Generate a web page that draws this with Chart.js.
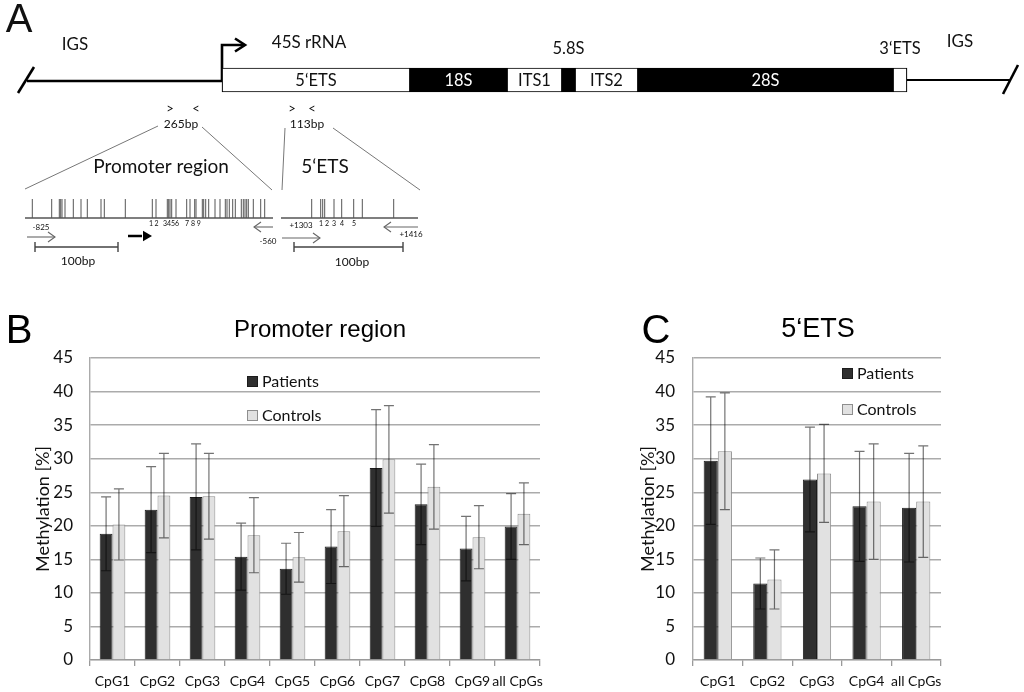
<!DOCTYPE html>
<html>
<head>
<meta charset="utf-8">
<title>rDNA methylation</title>
<script src="https://cdn.jsdelivr.net/npm/chart.js@4.4.0/dist/chart.umd.min.js"></script>
<style>
  body { margin: 0; background: #fff; }
  .panel { position: absolute; }
  #wrapA { left: 0; top: 0; width: 1024px; height: 290px; }
  #wrapB { left: 0; top: 290px; width: 560px; height: 402px; }
  #wrapC { left: 600px; top: 290px; width: 424px; height: 402px; }
</style>
</head>
<body>
<div class="panel" id="wrapA"><canvas id="chartA"></canvas></div>
<div class="panel" id="wrapB"><canvas id="chartB"></canvas></div>
<div class="panel" id="wrapC"><canvas id="chartC"></canvas></div>
<script>
// ---- values ----
// B: promoter region
const promoterLabels = ["CpG1", "CpG2", "CpG3", "CpG4", "CpG5", "CpG6", "CpG7", "CpG8", "CpG9", "all CpGs"];
const promoterPatients = [18.8, 22.4, 24.3, 15.4, 13.6, 16.9, 28.6, 23.2, 16.6, 19.9];
const promoterPatientsErr = [5.5, 6.4, 7.9, 5.0, 3.8, 5.5, 8.7, 6.0, 4.8, 4.9];
const promoterControls = [20.2, 24.5, 24.4, 18.6, 15.3, 19.2, 29.9, 25.8, 18.3, 21.8];
const promoterControlsErr = [5.3, 6.3, 6.4, 5.6, 3.7, 5.3, 8.0, 6.3, 4.7, 4.6];

// C: 5'ETS
const etsLabels = ["CpG1", "CpG2", "CpG3", "CpG4", "all CpGs"];
const etsPatients = [29.7, 11.4, 26.9, 22.9, 22.7];
const etsPatientsErr = [9.5, 3.8, 7.8, 8.2, 8.1];
const etsControls = [31.1, 12.0, 27.8, 23.6, 23.6];
const etsControlsErr = [8.7, 4.4, 7.3, 8.6, 8.3];

const yTicks = [0, 5, 10, 15, 20, 25, 30, 35, 40, 45];

// A: rDNA unit, segment bounds in diagram units
const geneSegments = ["5‘ETS", "18S", "ITS1", "5.8S", "ITS2", "28S", "3‘ETS"];
const geneStart = [222, 410, 507, 562, 575, 638, 893];
const geneEnd = [410, 507, 562, 575, 638, 893, 907];
const geneKind = ["spacer", "rRNA", "spacer", "rRNA", "spacer", "rRNA", "spacer"];
// CpG sites inside the two amplicons (diagram units)
const promoterCpG = [32.3, 51.7, 59.3, 60.7, 62, 65, 73.3, 81, 87.3, 101, 104.3, 125.3,
  152.3, 156, 167.3, 168.7, 170, 171.7, 176, 186.7, 190, 194.7, 196, 202.3, 203.7, 205.7,
  208.7, 215, 220, 225.3, 227, 229.3, 232.7, 235.3, 241.3, 243.3, 245, 246.7, 248.3, 253.3,
  260.7, 264.7];
const etsCpG = [311.7, 320.7, 322.7, 324.7, 334, 341.7, 353.7, 362.3, 393.7];

Chart.defaults.font.family = "Lato";
Chart.defaults.color = "#111";

// ---- panel A ----
function path(points, color, width) {
  return {
    type: "scatter", showLine: true, pointRadius: 0, fill: false,
    borderColor: color, borderWidth: width,
    data: points.map(p => ({x: p[0], y: p[1]}))
  };
}

const diagramText = [
  ["A", 19, 21, 40, "Liberation Sans"],
  ["IGS", 75, 45, 17],
  ["45S rRNA", 309, 43, 17],
  ["IGS", 960, 42, 17],
  [">", 170, 109, 13], ["<", 196, 109, 13], ["265bp", 181, 124, 12],
  [">", 292, 109, 13], ["<", 312, 109, 13], ["113bp", 307, 124, 12],
  ["Promoter region", 161, 167, 19],
  ["5‘ETS", 325, 167, 19],
  ["1", 151, 224, 7], ["2", 156.5, 224, 7], ["3456", 171, 224, 7], ["7 8 9", 193, 224, 7],
  ["-825", 41, 227, 8], ["-560", 268, 241, 8],
  ["+1303", 301, 225, 8], ["1 2", 324, 224, 7], ["3", 334, 224, 7], ["4", 342, 224, 7],
  ["5", 354, 224, 7], ["+1416", 411, 234, 8],
  ["100bp", 78, 261, 12], ["100bp", 352, 262, 12]
];

const diagramTextPlugin = {
  id: "diagramText",
  afterDatasetsDraw(chart) {
    const {ctx, scales: {x, y}} = chart;
    ctx.save();
    ctx.textAlign = "center";
    ctx.textBaseline = "middle";
    diagramText.forEach(([t, px, py, size, fam]) => {
      ctx.font = size + "px " + (fam ? '"' + fam + '"' : "Lato");
      ctx.fillStyle = "#111";
      ctx.fillText(t, x.getPixelForValue(px), y.getPixelForValue(py));
    });
    // segment names
    ctx.font = "16.5px Lato";
    geneSegments.forEach((name, i) => {
      const cx = x.getPixelForValue((geneStart[i] + geneEnd[i]) / 2);
      if (geneEnd[i] - geneStart[i] > 30) {
        ctx.fillStyle = geneKind[i] === "rRNA" ? "#fff" : "#111";
        ctx.fillText(name, cx, y.getPixelForValue(81));
      } else {
        ctx.fillStyle = "#111";
        ctx.fillText(name, cx, y.getPixelForValue(49));
      }
    });
    ctx.restore();
  }
};

new Chart(document.getElementById("chartA"), {
  type: "scatter",
  data: {
    datasets: [
      {
        type: "bar", indexAxis: "y",
        data: geneSegments.map((s, i) => ({x: [geneStart[i], geneEnd[i]], y: 80})),
        backgroundColor: geneKind.map(k => k === "rRNA" ? "#000" : "#fff"),
        borderColor: "#000", borderWidth: 1.2, borderSkipped: false, barThickness: 24
      },
      // IGS line with transcription start arrow
      path([[27, 81], [222, 81], [222, 45], [244, 45]], "#000", 2.6),
      path([[235, 38.5], [245, 45], [235, 51.5]], "#000", 2.6),
      path([[18, 93], [34, 67]], "#000", 2.6),
      path([[907, 80], [1010, 80]], "#000", 2.2),
      path([[1003, 94], [1018, 65]], "#000", 2.6),
      // zoom lines
      path([[25, 189], [158, 126]], "#777", 1),
      path([[202, 127], [272, 190]], "#777", 1),
      path([[282, 190], [285, 128]], "#777", 1),
      path([[333, 128], [420, 190]], "#777", 1),
      // amplicon baselines
      path([[25, 218], [273, 218]], "#555", 1.3),
      path([[281, 218], [418, 218]], "#555", 1.3),
      // primers
      path([[27, 237], [55, 237]], "#666", 1.1),
      path([[48, 232], [55, 237], [48, 242]], "#666", 1.1),
      path([[273, 227], [254, 227]], "#666", 1.1),
      path([[261, 222], [254, 227], [261, 232]], "#666", 1.1),
      path([[282, 238], [320, 238]], "#666", 1.1),
      path([[313, 233], [320, 238], [313, 243]], "#666", 1.1),
      path([[418, 227], [384, 227]], "#666", 1.1),
      path([[391, 222], [384, 227], [391, 232]], "#666", 1.1),
      // 100bp scale bars
      path([[35, 242], [35, 252], [35, 247], [118, 247], [118, 242], [118, 252]], "#444", 1.4),
      path([[294, 242], [294, 252], [294, 247], [403, 247], [403, 242], [403, 252]], "#444", 1.4),
      // transcription start in promoter
      path([[128, 236], [142, 236]], "#000", 2.5),
      {
        type: "scatter", data: [{x: 146, y: 236}], pointStyle: "triangle", rotation: 90,
        pointRadius: 6, backgroundColor: "#000", borderColor: "#000", borderWidth: 0
      },
      // CpG sites
      {
        type: "scatter", data: promoterCpG.concat(etsCpG).map(v => ({x: v, y: 208.5})),
        pointStyle: "line", rotation: 90, pointRadius: 9.5,
        borderColor: "#555", borderWidth: 1
      }
    ]
  },
  options: {
    responsive: true, maintainAspectRatio: false, animation: false, events: [],
    layout: {padding: 0, autoPadding: false},
    scales: {
      x: {type: "linear", min: 0, max: 1024, display: false, offset: false},
      y: {type: "linear", min: 0, max: 290, reverse: true, display: false, offset: false}
    },
    plugins: {legend: {display: false}, tooltip: {enabled: false}}
  },
  plugins: [diagramTextPlugin]
});

// ---- panels B and C ----
const errorBars = {
  id: "errorBars",
  afterDatasetsDraw(chart) {
    const ctx = chart.ctx, ys = chart.scales.y;
    ctx.save();
    ctx.strokeStyle = "rgba(0,0,0,0.55)";
    ctx.lineWidth = 1.2;
    chart.data.datasets.forEach((ds, i) => {
      chart.getDatasetMeta(i).data.forEach((bar, j) => {
        const v = ds.data[j], e = ds.err[j];
        const top = ys.getPixelForValue(v + e), bot = ys.getPixelForValue(v - e);
        ctx.beginPath();
        ctx.moveTo(bar.x, top); ctx.lineTo(bar.x, bot);
        ctx.moveTo(bar.x - 5, top); ctx.lineTo(bar.x + 5, top);
        ctx.moveTo(bar.x - 5, bot); ctx.lineTo(bar.x + 5, bot);
        ctx.stroke();
      });
    });
    ctx.restore();
  }
};

const panelDecor = {
  id: "panelDecor",
  afterDraw(chart, args, o) {
    const ctx = chart.ctx;
    ctx.save();
    ctx.fillStyle = "#000";
    ctx.textAlign = "center";
    ctx.textBaseline = "middle";
    ctx.font = '40px "Liberation Sans"';
    ctx.fillText(o.letter, o.letterX, o.letterY);
    ctx.font = o.titleSize + 'px "Liberation Sans"';
    ctx.fillText(o.title, o.titleX, o.titleY);
    // legend inside plot
    ctx.textAlign = "left";
    ctx.font = "16px Lato";
    chart.data.datasets.forEach((ds, i) => {
      const ly = o.legendY + i * o.legendGap;
      ctx.fillStyle = ds.backgroundColor;
      ctx.fillRect(o.legendX, ly - 5, 11, 11);
      ctx.strokeStyle = ds.borderColor;
      ctx.lineWidth = 1;
      ctx.strokeRect(o.legendX + 0.5, ly - 4.5, 10, 10);
      ctx.fillStyle = "#111";
      ctx.fillText(ds.label, o.legendX + 15, ly + 1);
    });
    ctx.restore();
  }
};

function methylationChart(id, labels, pat, patErr, con, conErr, lay) {
  return new Chart(document.getElementById(id), {
    type: "bar",
    data: {
      labels: labels,
      datasets: [
        {label: "Patients", data: pat, err: patErr, backgroundColor: "#2f2f2f",
          borderColor: "#1c1c1c", borderWidth: 1},
        {label: "Controls", data: con, err: conErr, backgroundColor: "#e1e1e1",
          borderColor: "#8e8e8e", borderWidth: 1}
      ]
    },
    options: {
      responsive: true, maintainAspectRatio: false, animation: false, events: [],
      layout: {padding: {left: 0, right: lay.right, top: 68, bottom: 0}},
      datasets: {bar: {barPercentage: 1, categoryPercentage: 0.57}},
      scales: {
        x: {
          grid: {offset: true, drawOnChartArea: false, drawTicks: true, tickLength: 6,
            color: "#9a9a9a", lineWidth: 1.3},
          border: {color: "#9a9a9a", width: 1.3},
          ticks: {font: {size: 14}, padding: 7, maxRotation: 0, autoSkip: false},
          afterFit: s => { s.height = 32; }
        },
        y: {
          min: 0, max: 45,
          afterBuildTicks: s => { s.ticks = yTicks.map(v => ({value: v})); },
          grid: {drawTicks: false, color: "#ababab", lineWidth: 1.4},
          border: {color: "#ababab", width: 1.4},
          ticks: {font: {size: 17}, padding: lay.tickPad},
          title: {display: true, text: "Methylation [%]", font: {size: 18},
            padding: {top: lay.titlePad, bottom: 0}},
          afterFit: s => { s.width = lay.axisW; }
        }
      },
      plugins: {
        legend: {display: false}, tooltip: {enabled: false},
        panelDecor: lay.decor
      }
    },
    plugins: [errorBars, panelDecor]
  });
}

methylationChart("chartB", promoterLabels, promoterPatients, promoterPatientsErr,
  promoterControls, promoterControlsErr, {
    right: 20, axisW: 90, tickPad: 17, titlePad: 32,
    decor: {letter: "B", letterX: 19, letterY: 42, title: "Promoter region", titleSize: 24,
      titleX: 320, titleY: 40, legendX: 247, legendY: 91, legendGap: 34}
  });

methylationChart("chartC", etsLabels, etsPatients, etsPatientsErr,
  etsControls, etsControlsErr, {
    right: 83, axisW: 93, tickPad: 18, titlePad: 37,
    decor: {letter: "C", letterX: 56, letterY: 42, title: "5‘ETS", titleSize: 27,
      titleX: 218, titleY: 40, legendX: 242, legendY: 83, legendGap: 36}
  });
</script>
</body>
</html>
